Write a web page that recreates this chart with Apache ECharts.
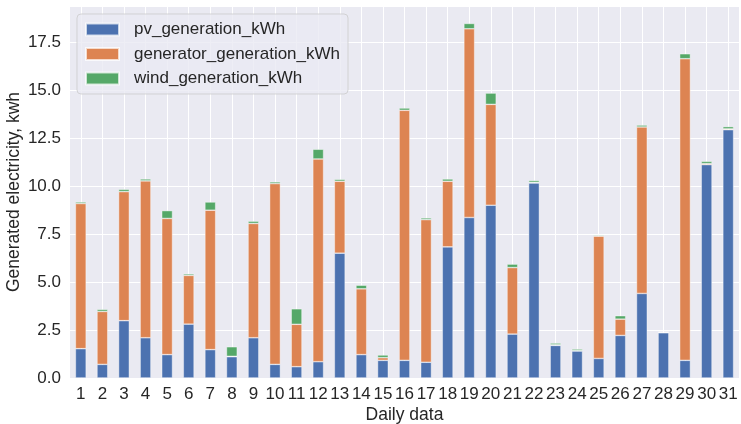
<!DOCTYPE html>
<html>
<head>
<meta charset="utf-8">
<script src="https://cdn.jsdelivr.net/npm/echarts@6/dist/echarts.min.js"></script>
<style>
  html, body { margin: 0; padding: 0; background: #fff; }
  #mycharts { width: 741px; height: 424px; }
</style>
</head>
<body>
<div id="mycharts"></div>
<script>
// daily data
const days = ["1","2","3","4","5","6","7","8","9","10","11","12","13","14","15","16","17","18","19","20","21","22","23","24","25","26","27","28","29","30","31"];
const pvGeneration = [1.53,0.71,2.99,2.10,1.22,2.81,1.48,1.11,2.10,0.71,0.59,0.85,6.51,1.22,0.92,0.92,0.82,6.84,8.37,9.01,2.29,10.17,1.70,1.41,1.02,2.22,4.41,2.36,0.92,11.13,12.95];
const generatorGeneration = [7.57,2.76,6.73,8.18,7.10,2.54,7.27,0.02,5.96,9.43,2.21,10.57,3.75,3.43,0.14,13.04,7.44,3.42,9.84,5.26,3.47,0.03,0.03,0.02,6.38,0.85,8.68,0.02,15.73,0.05,0.04];
const windGeneration = [0.08,0.11,0.12,0.10,0.41,0.08,0.43,0.50,0.12,0.09,0.81,0.51,0.10,0.19,0.14,0.12,0.09,0.12,0.28,0.59,0.18,0.10,0.09,0.08,0.05,0.18,0.10,0.03,0.26,0.12,0.12];
const yTicks = [0, 2.5, 5, 7.5, 10, 12.5, 15, 17.5];

const font = "'Liberation Sans', Arial, sans-serif";
const textColor = "#262626";

function barSeries(name, data, color) {
  return {
    name: name,
    type: "bar",
    stack: "total",
    barWidth: "50%",
    data: data,
    itemStyle: { color: color, borderColor: "rgba(255,255,255,0.7)", borderWidth: 0.6 }
  };
}

const charts = echarts.init(document.getElementById("mycharts"));
const option = {
  animation: false,
  textStyle: { fontFamily: font },
  grid: {
    left: 70,
    right: 2,
    top: 6,
    bottom: 46,
    outerBoundsMode: "none",
    show: true,
    backgroundColor: "#eaeaf2",
    borderWidth: 0
  },
  legend: {
    orient: "vertical",
    left: 77,
    top: 14,
    icon: "rect",
    itemWidth: 33,
    itemHeight: 12,
    itemGap: 7.5,
    padding: [7, 8, 7, 8],
    backgroundColor: "rgba(234,234,242,0.8)",
    borderColor: "rgba(204,204,204,0.8)",
    borderWidth: 1,
    borderRadius: 4,
    textStyle: { fontSize: 17, color: textColor, fontFamily: font, lineHeight: 17, padding: [0, 0, 0, 10] },
    data: ["pv_generation_kWh", "generator_generation_kWh", "wind_generation_kWh"]
  },
  xAxis: {
    type: "category",
    data: days,
    name: "Daily data",
    nameLocation: "middle",
    nameGap: 28,
    nameMoveOverlap: false,
    nameTextStyle: { fontSize: 17.5, color: textColor, fontFamily: font },
    axisLine: { show: false },
    axisTick: { show: false, alignWithLabel: true },
    axisLabel: { fontSize: 17, color: textColor, margin: 8, interval: 0, fontFamily: font },
    splitLine: { show: true, alignWithLabel: true, lineStyle: { color: "#ffffff", width: 1 } }
  },
  yAxis: {
    type: "value",
    min: 0,
    max: 19.4,
    interval: 2.5,
    name: "Generated electricity, kwh",
    nameLocation: "middle",
    nameGap: 47,
    nameMoveOverlap: false,
    nameTextStyle: { fontSize: 17.5, color: textColor, fontFamily: font },
    axisLine: { show: false },
    axisTick: { show: false },
    axisLabel: {
      fontSize: 17,
      color: textColor,
      margin: 9,
      fontFamily: font,
      showMaxLabel: false,
      formatter: function (v) {
        return yTicks.indexOf(v) >= 0 ? v.toFixed(1) : "";
      }
    },
    splitLine: { show: true, lineStyle: { color: "#ffffff", width: 1 } }
  },
  series: [
    barSeries("pv_generation_kWh", pvGeneration, "#4c72b0"),
    barSeries("generator_generation_kWh", generatorGeneration, "#dd8452"),
    barSeries("wind_generation_kWh", windGeneration, "#55a868")
  ]
};
charts.setOption(option);
</script>
</body>
</html>
